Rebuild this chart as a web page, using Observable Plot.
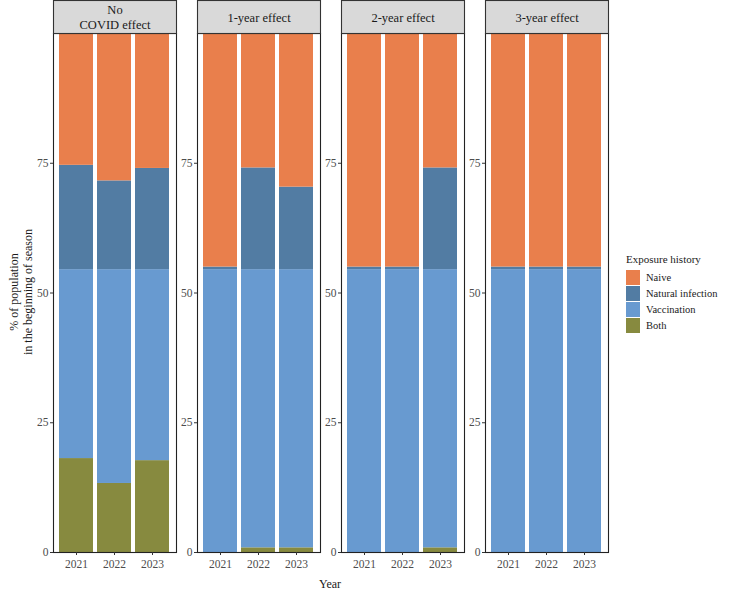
<!DOCTYPE html>
<html>
<head>
<meta charset="utf-8">
<script src="https://cdn.jsdelivr.net/npm/d3@7"></script>
<script src="https://cdn.jsdelivr.net/npm/@observablehq/plot@0.6"></script>
<style>
  html, body { margin: 0; padding: 0; background: #ffffff; }
  #chart { width: 732px; height: 592px; }
</style>
</head>
<body>
<div id="chart"></div>
<script>
// ---- Data ----
const scenarios = ["No COVID effect", "1-year effect", "2-year effect", "3-year effect"];
const stripLabels = ["No\nCOVID effect", "1-year effect", "2-year effect", "3-year effect"];
const years = ["2021", "2022", "2023"];
const legendCategories = ["Naive", "Natural infection", "Vaccination", "Both"];
const categoryColors = ["#e97f4c", "#527ca3", "#689ad0", "#878a3f"];
const yTicks = [0, 25, 50, 75];

// rows = scenarios, columns = years (percent of population)
const bothPct        = [[18.1, 13.3, 17.7], [0, 0.9, 0.9], [0, 0, 0.9], [0, 0, 0]];
const vaccinationPct = [[36.4, 41.2, 36.8], [54.5, 53.6, 53.6], [54.5, 54.5, 53.6], [54.5, 54.5, 54.5]];
const naturalPct     = [[20.1, 17.1, 19.5], [0.5, 19.6, 15.9], [0.5, 0.5, 19.6], [0.5, 0.5, 0.5]];
const naivePct       = [[25.4, 28.4, 26.0], [45.0, 25.9, 29.6], [45.0, 45.0, 25.9], [45.0, 45.0, 45.0]];

// stacking order bottom -> top
const stackSeries = [
  ["Both", bothPct],
  ["Vaccination", vaccinationPct],
  ["Natural infection", naturalPct],
  ["Naive", naivePct]
];

const rows = [];
for (const [category, values] of stackSeries) {
  scenarios.forEach((s, i) => {
    years.forEach((y, j) => rows.push({scenario: s, year: y, category, value: values[i][j]}));
  });
}

const FONT = "'Liberation Serif', 'DejaVu Serif', serif";
const STRIP_H = 33;

const stripText = Plot.text(scenarios, {
  fx: d => d,
  text: d => stripLabels[scenarios.indexOf(d)],
  frameAnchor: "top",
  dy: -STRIP_H / 2,
  lineAnchor: "middle",
  lineHeight: 1.2,
  fontSize: 12.5,
  fill: "#1a1a1a",
  render(index, scales, values, dimensions, context, next) {
    const g = next(index, scales, values, dimensions, context);
    const {marginLeft, marginRight, marginTop, width} = dimensions;
    const r = document.createElementNS("http://www.w3.org/2000/svg", "rect");
    // the group is already shifted by dy = -STRIP_H/2
    r.setAttribute("x", marginLeft);
    r.setAttribute("y", marginTop - STRIP_H / 2);
    r.setAttribute("width", width - marginLeft - marginRight);
    r.setAttribute("height", STRIP_H);
    r.setAttribute("fill", "#d9d9d9");
    r.setAttribute("stroke", "#333333");
    r.setAttribute("stroke-width", 1.1);
    g.insertBefore(r, g.firstChild);
    return g;
  }
});

const chart = Plot.plot({
  width: 732,
  height: 592,
  marginLeft: 52,
  marginRight: 123,
  marginTop: 33,
  marginBottom: 40,
  style: {fontFamily: FONT, fontSize: "11.5px", background: "transparent"},
  fx: {domain: scenarios, paddingInner: 0.145, paddingOuter: 0, axis: null, label: null},
  x: {type: "band", domain: years, paddingInner: 0.1, paddingOuter: 0.15, label: null},
  y: {domain: [0, 100], label: null},
  color: {domain: legendCategories, range: categoryColors},
  marks: [
    Plot.barY(rows, {fx: "scenario", x: "year", y: "value", fill: "category", z: "category"}),
    Plot.frame({stroke: "#222222", strokeWidth: 1.1}),
    stripText,
    Plot.axisY({ticks: yTicks, tickSize: 3, tickPadding: 2, label: null, facetAnchor: null,
                fill: "#4d4d4d", stroke: "#333333"}),
    Plot.axisX({tickSize: 3, tickPadding: 4, label: null, fill: "#4d4d4d", stroke: "#333333"})
  ]
});

document.getElementById("chart").appendChild(chart);

// ---- titles and legend appended into the same SVG ----
const svg = d3.select(chart);
const color = chart.scale("color");

svg.append("text")
  .attr("transform", "translate(14,292) rotate(-90)")
  .attr("text-anchor", "middle")
  .attr("dominant-baseline", "central")
  .attr("font-family", FONT).attr("font-size", 12).attr("fill", "#1a1a1a")
  .text("% of population");
svg.append("text")
  .attr("transform", "translate(28,292) rotate(-90)")
  .attr("text-anchor", "middle")
  .attr("dominant-baseline", "central")
  .attr("font-family", FONT).attr("font-size", 12).attr("fill", "#1a1a1a")
  .text("in the beginning of season");

svg.append("text")
  .attr("x", 330).attr("y", 584)
  .attr("text-anchor", "middle")
  .attr("dominant-baseline", "central")
  .attr("font-family", FONT).attr("font-size", 12).attr("fill", "#1a1a1a")
  .text("Year");

const lg = svg.append("g").attr("transform", "translate(626,0)");
lg.append("text")
  .attr("x", 0).attr("y", 259)
  .attr("text-anchor", "start")
  .attr("dominant-baseline", "central")
  .attr("font-family", FONT).attr("font-size", 11).attr("fill", "#1a1a1a")
  .text("Exposure history");
legendCategories.forEach((c, i) => {
  const cy = 277.5 + i * 16;
  lg.append("rect")
    .attr("x", 0).attr("y", cy - 7.5).attr("width", 14).attr("height", 15)
    .attr("fill", color.apply(c));
  lg.append("text")
    .attr("x", 20).attr("y", cy)
    .attr("text-anchor", "start")
    .attr("dominant-baseline", "central")
    .attr("font-family", FONT).attr("font-size", 10.5).attr("fill", "#1a1a1a")
    .text(c);
});
</script>
</body>
</html>
